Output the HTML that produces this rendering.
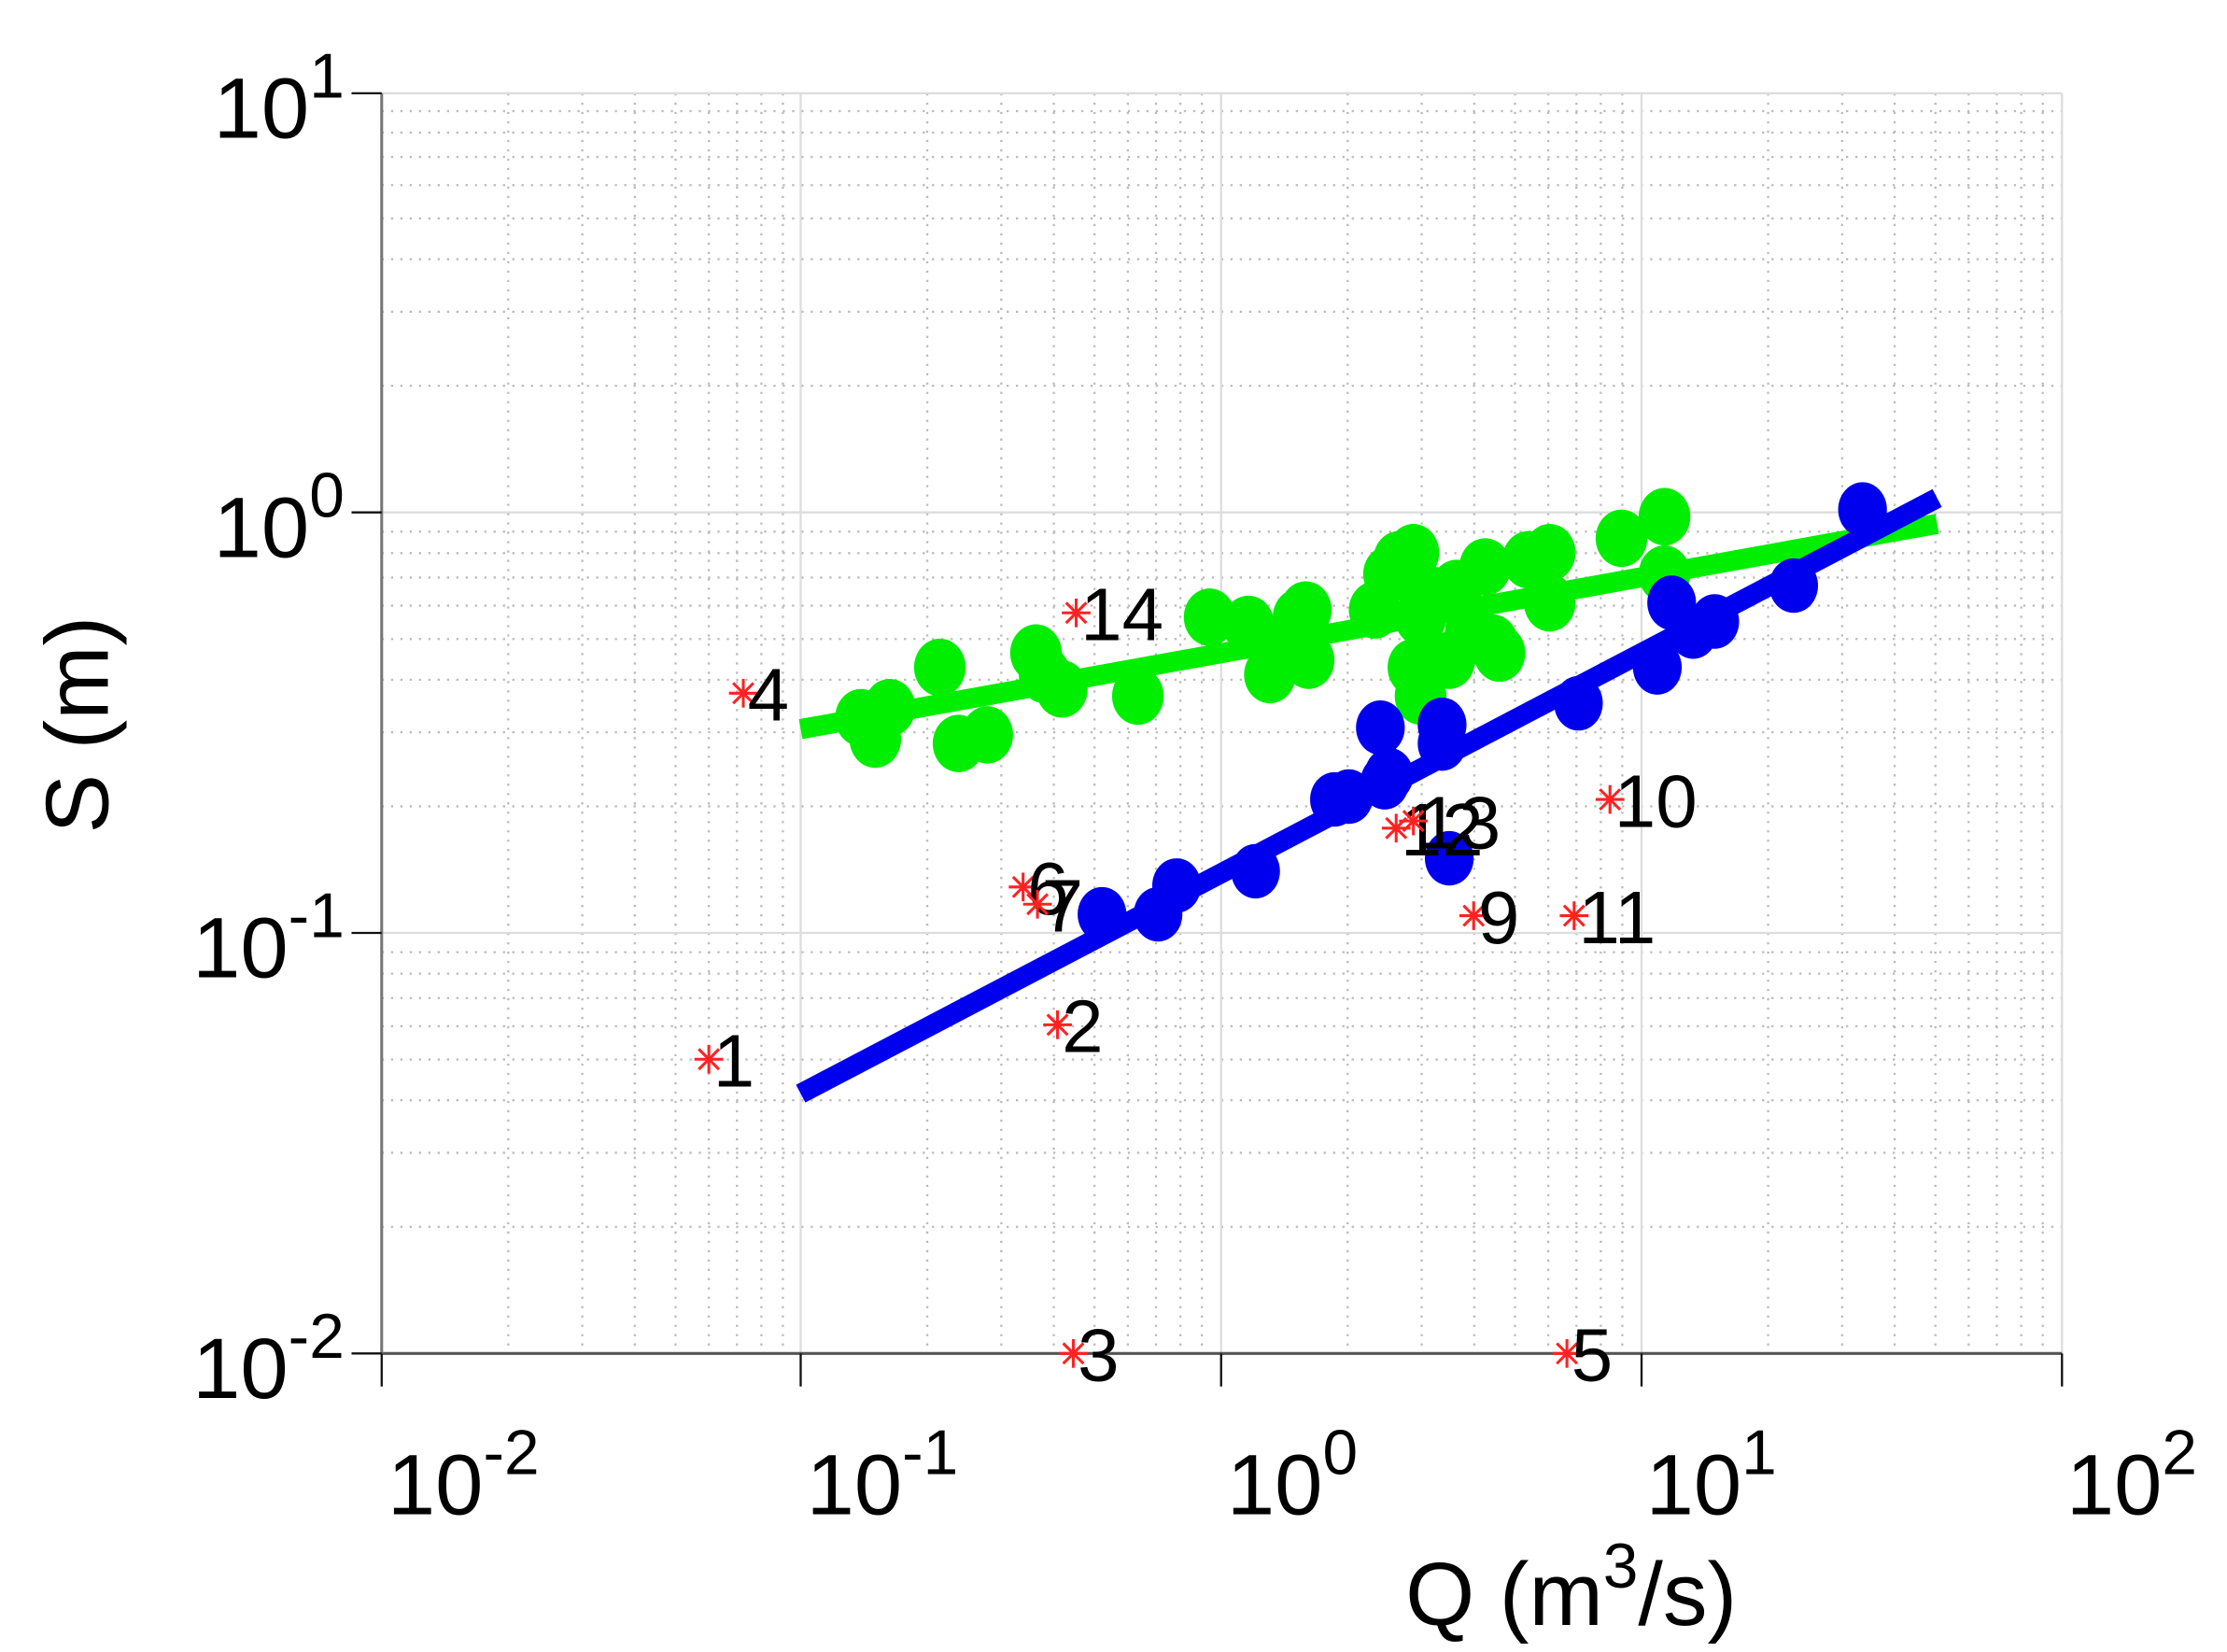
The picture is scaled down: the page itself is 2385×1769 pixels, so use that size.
<!DOCTYPE html>
<html><head><meta charset="utf-8"><style>
html,body{margin:0;padding:0;background:#fff;}
svg{display:block;}
text{font-family:"Liberation Sans",sans-serif;fill:#000;}
</style></head><body>
<svg id="s" width="2385" height="1769" viewBox="0 0 1552 1151" preserveAspectRatio="none" xmlns="http://www.w3.org/2000/svg">
<g id="grid"></g>
<line x1="266" y1="943" x2="1437" y2="943" stroke="#555" stroke-width="2"/>
<line x1="266" y1="65" x2="266" y2="943" stroke="#777" stroke-width="2"/>
<g stroke="#111" stroke-width="1.5">
<line x1="245" y1="65" x2="266" y2="65"/><line x1="245" y1="357" x2="266" y2="357"/>
<line x1="245" y1="650" x2="266" y2="650"/><line x1="245" y1="943" x2="266" y2="943"/>
<line x1="266" y1="943" x2="266" y2="966"/><line x1="558" y1="943" x2="558" y2="966"/>
<line x1="851" y1="943" x2="851" y2="966"/><line x1="1144" y1="943" x2="1144" y2="966"/>
<line x1="1437" y1="943" x2="1437" y2="966"/>
</g>
<g font-size="60" text-anchor="end">
<text x="240" y="96">10<tspan font-size="44" dy="-28">1</tspan></text>
<text x="240" y="388">10<tspan font-size="44" dy="-28">0</tspan></text>
<text x="240" y="681">10<tspan font-size="44" dy="-28">-1</tspan></text>
<text x="240" y="974">10<tspan font-size="44" dy="-28">-2</tspan></text>
</g>
<g font-size="60">
<text x="270" y="1055">10<tspan font-size="44" dy="-28">-2</tspan></text>
<text x="562" y="1055">10<tspan font-size="44" dy="-28">-1</tspan></text>
<text x="855" y="1055">10<tspan font-size="44" dy="-28">0</tspan></text>
<text x="1147" y="1055">10<tspan font-size="44" dy="-28">1</tspan></text>
<text x="1440" y="1055">10<tspan font-size="44" dy="-28">2</tspan></text>
</g>
<text x="1095" y="1132" font-size="62" text-anchor="middle">Q (m<tspan font-size="44" dy="-26">3</tspan><tspan dy="26">/s)</tspan></text>
<text transform="translate(75,505) rotate(-90)" font-size="62" text-anchor="middle">S (m)</text>
<line x1="558" y1="508" x2="1350" y2="365" stroke="#00ee00" stroke-width="14"/>
<g id="gd" fill="#00ee00"></g>
<line x1="558" y1="762" x2="1350" y2="347" stroke="#0000ee" stroke-width="14"/>
<g id="bd" fill="#0000ee"></g>
<g id="rd"></g>
</svg>
<script>
var NS="http://www.w3.org/2000/svg";
function el(p,t,a){var e=document.createElementNS(NS,t);for(var k in a)e.setAttribute(k,a[k]);p.appendChild(e);return e;}
var g=document.getElementById('grid');
var xs=[266,558,851,1144,1437],ys=[943,650,357,65];
for(var d=0;d<4;d++){for(var k=2;k<10;k++){var x=xs[d]+293*Math.log10(k);
el(g,'line',{x1:x,y1:65,x2:x,y2:943,stroke:'#bbb','stroke-width':1.5,'stroke-dasharray':'1.5 5'});}}
for(var d=0;d<3;d++){for(var k=2;k<10;k++){var y=ys[d]-293*Math.log10(k);
el(g,'line',{x1:266,y1:y,x2:1437,y2:y,stroke:'#bbb','stroke-width':1.5,'stroke-dasharray':'1.5 5'});}}
xs.forEach(function(x){el(g,'line',{x1:x,y1:65,x2:x,y2:943,stroke:'#ddd','stroke-width':1.5});});
ys.forEach(function(y){el(g,'line',{x1:266,y1:y,x2:1437,y2:y,stroke:'#ddd','stroke-width':1.5});});
var gp=[[600,500],[610,515],[620,493],[655,465],[668,518],[688,512],[722,455],[728,470],[740,480],[793,485],[843,430],[870,435],[885,470],[890,450],[905,430],[912,460],[910,425],[958,425],[968,400],[975,390],[985,385],[990,430],[985,465],[990,485],[1000,415],[1015,410],[1025,440],[1035,395],[1040,448],[1045,455],[1065,390],[1080,385],[1080,420],[1130,375],[1160,360],[1160,400],[1010,460]];
var gd=document.getElementById('gd');gp.forEach(function(p){el(gd,'ellipse',{cx:p[0],cy:p[1],rx:18,ry:20});});
var bp=[[768,637],[807,637],[820,617],[875,607],[930,557],[940,555],[962,507],[965,545],[968,540],[1005,505],[1005,518],[1010,598],[1100,490],[1155,465],[1165,420],[1180,440],[1195,433],[1250,408],[1298,355]];
var bd=document.getElementById('bd');bp.forEach(function(p){el(bd,'ellipse',{cx:p[0],cy:p[1],rx:17,ry:19});});
var rp=[[494,738,'1'],[737,714,'2'],[748,943,'3'],[518,483,'4'],[1092,943,'5'],[713,618,'6'],[723,630,'7'],[1027,638,'9'],[1122,557,'10'],[1097,638,'11'],[973,577,'12'],[985,572,'13'],[750,427,'14']];
var rd=document.getElementById('rd');
rp.forEach(function(p){var x=p[0],y=p[1],r=10;
for(var a=0;a<4;a++){var t=a*Math.PI/4;el(rd,'line',{x1:x-r*Math.cos(t),y1:y-r*Math.sin(t),x2:x+r*Math.cos(t),y2:y+r*Math.sin(t),stroke:'#f22','stroke-width':2});}
var tx=el(rd,'text',{x:x+3,y:y+19,'font-size':52});tx.textContent=p[2];});
</script>
</body></html>
